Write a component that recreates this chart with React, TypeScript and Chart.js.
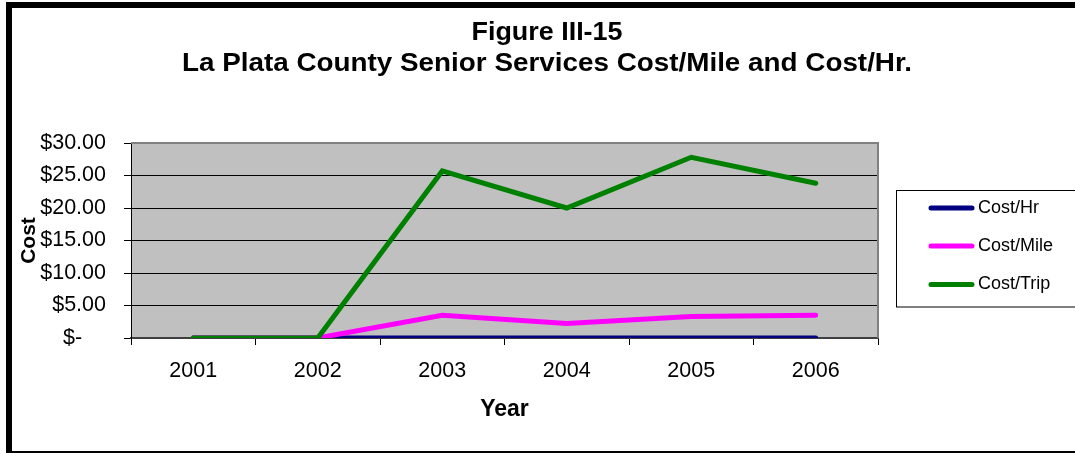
import React, { useEffect, useRef } from 'react';
import { Chart, registerables } from 'chart.js';

Chart.register(...registerables);

const TITLE_LINES = ['Figure III-15', 'La Plata County Senior Services Cost/Mile and Cost/Hr.'];
const YEARS = ['2001', '2002', '2003', '2004', '2005', '2006'];
const COST_HR = [0, 0, 0, 0, 0, 0];
const COST_MILE = [0, 0, 3.5, 2.25, 3.3, 3.5];
const COST_TRIP = [0, 0, 25.7, 20.0, 27.8, 23.8];
const SERIES_LABELS = ['Cost/Hr', 'Cost/Mile', 'Cost/Trip'];
const SERIES_COLORS = ['#000080', '#FF00FF', '#008000'];
const Y_MIN = 0;
const Y_MAX = 30;
const Y_STEP = 5;
const X_TITLE = 'Year';
const Y_TITLE = 'Cost';

const FONT = '"Liberation Sans", Arial, Helvetica, sans-serif';

const framePlugin = {
  id: 'framePlugin',
  beforeDraw(chart: any) {
    const { ctx, chartArea: a, width, height } = chart;
    ctx.save();
    ctx.fillStyle = '#ffffff';
    ctx.fillRect(0, 0, width, height);
    ctx.fillStyle = '#C0C0C0';
    ctx.fillRect(a.left, a.top, a.right - a.left, a.bottom - a.top);
    ctx.restore();
  },
  beforeDatasetsDraw(chart: any) {
    const { ctx, chartArea: a } = chart;
    ctx.save();
    ctx.strokeStyle = '#808080';
    ctx.lineWidth = 2;
    ctx.beginPath();
    ctx.moveTo(a.left, a.top);
    ctx.lineTo(a.right, a.top);
    ctx.lineTo(a.right, a.bottom);
    ctx.stroke();
    ctx.restore();
  },
  afterDraw(chart: any) {
    const { ctx } = chart;
    ctx.save();
    const titleSpecs = [
      { y: 40, w: 151 },
      { y: 71, w: 730 },
    ];
    ctx.fillStyle = '#000';
    ctx.font = `bold 25px ${FONT}`;
    ctx.textAlign = 'center';
    ctx.textBaseline = 'alphabetic';
    TITLE_LINES.forEach((t, i) => {
      const m = ctx.measureText(t).width;
      const sx = titleSpecs[i].w / m;
      ctx.save();
      ctx.translate(547, titleSpecs[i].y);
      ctx.scale(sx, 1);
      ctx.fillText(t, 0, 0);
      ctx.restore();
    });

    ctx.strokeStyle = '#000';
    ctx.lineWidth = 1;
    ctx.strokeRect(896.5, 190.5, 200, 116.5);
    const rowsY = [208, 246, 284.5];
    chart.data.datasets.forEach((ds: any, i: number) => {
      const y = rowsY[i];
      ctx.strokeStyle = ds.borderColor;
      ctx.lineWidth = 5;
      ctx.lineCap = 'round';
      ctx.beginPath();
      ctx.moveTo(931, y);
      ctx.lineTo(972, y);
      ctx.stroke();
      ctx.fillStyle = '#000';
      ctx.font = `18px ${FONT}`;
      ctx.textAlign = 'left';
      ctx.textBaseline = 'middle';
      ctx.fillText(ds.label, 978, y);
    });

    ctx.strokeStyle = '#000';
    ctx.lineWidth = 6;
    ctx.lineCap = 'butt';
    ctx.strokeRect(9, 5, 1080, 449);
    ctx.restore();
  },
};

export default function App() {
  const canvasRef = useRef<HTMLCanvasElement | null>(null);

  useEffect(() => {
    const canvas = canvasRef.current;
    if (!canvas) return;
    const seriesData = [COST_HR, COST_MILE, COST_TRIP];
    const chart = new Chart(canvas, {
      type: 'line',
      data: {
        labels: YEARS,
        datasets: seriesData.map((d, i) => ({
          label: SERIES_LABELS[i],
          data: d,
          borderColor: SERIES_COLORS[i],
          backgroundColor: SERIES_COLORS[i],
          borderWidth: 5,
          pointRadius: 0,
          pointHoverRadius: 0,
          tension: 0,
          fill: false,
          borderCapStyle: 'round',
          order: 3 - i,
          clip: { left: 5, top: 5, right: 5, bottom: 0 },
        })) as any,
      },
      options: {
        animation: false,
        responsive: false,
        maintainAspectRatio: false,
        events: [],
        layout: {
          padding: { left: 12, top: 143, right: 197, bottom: 0 },
        },
        plugins: {
          legend: { display: false },
          title: { display: false },
          tooltip: { enabled: false },
        },
        scales: {
          x: {
            type: 'category',
            offset: true,
            grid: {
              display: true,
              drawOnChartArea: false,
              drawTicks: true,
              tickLength: 7,
              offset: true,
              color: '#000',
              lineWidth: 1,
            },
            border: { display: true, color: '#404040', width: 2 },
            ticks: {
              color: '#000',
              font: { family: FONT, size: 21.5 },
              padding: 13,
              maxRotation: 0,
              autoSkip: false,
            },
            title: {
              display: true,
              text: X_TITLE,
              color: '#000',
              font: { family: FONT, size: 23, weight: 'bold' },
              padding: { top: 0, bottom: 30 },
            },
            afterFit(scale: any) {
              scale.height = 115;
            },
          },
          y: {
            type: 'linear',
            min: Y_MIN,
            max: Y_MAX,
            ticks: {
              stepSize: Y_STEP,
              color: '#000',
              font: { family: FONT, size: 21.5 },
              padding: 18,
              callback: (v: any) => (Number(v) === 0 ? '$-    ' : '$' + Number(v).toFixed(2)),
            },
            grid: {
              color: '#000',
              lineWidth: 1,
              drawTicks: true,
              tickLength: 7,
            },
            border: { display: true, color: '#000', width: 1 },
            title: {
              display: true,
              text: Y_TITLE,
              color: '#000',
              font: { family: FONT, size: 21, weight: 'bold' },
              padding: { top: 5, bottom: 0 },
            },
            afterFit(scale: any) {
              scale.width = 119;
            },
          },
        },
      },
      plugins: [framePlugin],
    });
    return () => chart.destroy();
  }, []);

  return (
    <div style={{ position: 'fixed', left: 0, top: 0, width: 1075, height: 453, background: '#fff' }}>
      <canvas ref={canvasRef} width={1075} height={453} style={{ display: 'block' }} />
    </div>
  );
}
